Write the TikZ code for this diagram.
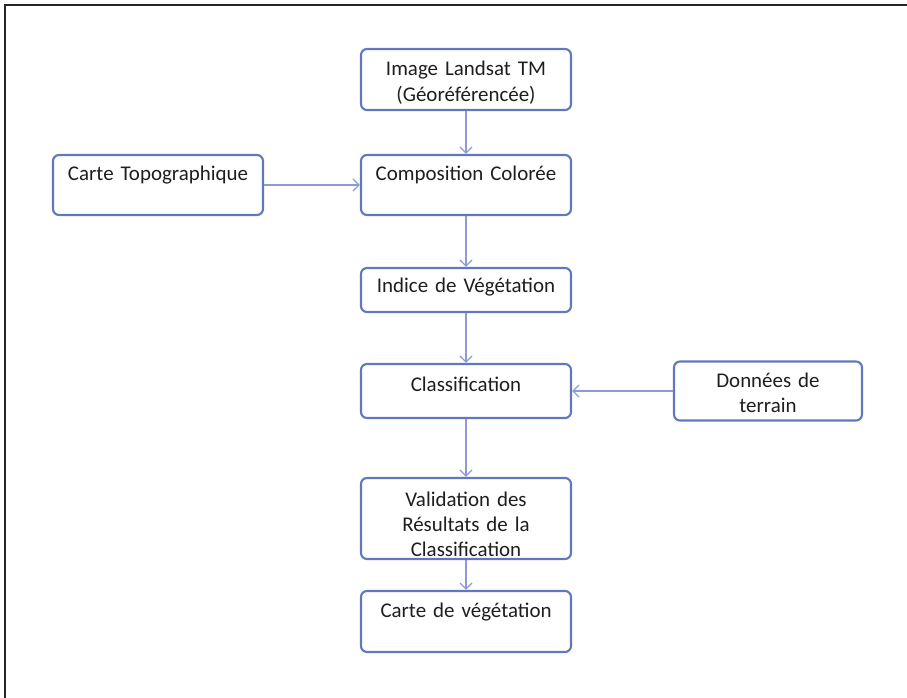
\documentclass[tikz,border=0pt]{standalone}
\usepackage{fontspec}
\setmainfont{Carlito}
\usetikzlibrary{positioning, arrows.meta}
\definecolor{boxblue}{RGB}{98,120,190}
\definecolor{linkblue}{RGB}{140,155,215}
\definecolor{textgray}{RGB}{30,30,30}
\tikzset{
box/.style={draw=boxblue, line width=1.6pt, rounded corners=4.5pt, fill=white,
  minimum width=157.5pt, text width=145pt, align=center, text height=10pt,
  text=textgray, font=\fontsize{15.7}{18.75}\selectfont},
link/.style={draw=linkblue, line width=1pt, -{Straight Barb[length=4.5pt,width=9pt]}},
frame/.style={line width=1.4pt, draw=black!85},
}

\begin{document}
\begin{tikzpicture}[x=0.75pt, y=-0.75pt]
    \useasboundingbox (0,0) rectangle (907,698);
    \draw[frame] (5,698)--(5,5)--(907,5);

    %main column
    \node[box, minimum height=45.75pt, text depth=15.25pt,
          font=\fontsize{15.7}{19.5}\selectfont] (img)  at (466,79.5)  {Image Landsat TM\\(Géoréférencée)};
    \node[box, minimum height=45pt,    text depth=16pt]    (comp)  at (466,185)   {Composition Colorée};
    \node[box, minimum height=33pt,    text depth=5.5pt]   (ndvi)  at (466,290)   {Indice de Végétation};
    \node[box, minimum height=40.5pt,  text depth=8.5pt]   (clas)  at (466,391)   {Classification};
    \node[box, minimum height=60.75pt, text depth=28.75pt] (valid) at (466,518.5) {Validation des\\Résultats de la\\Classification};
    \node[box, minimum height=45.75pt, text depth=16.75pt] (carte) at (466,621.5) {Carte de végétation};

    %side inputs
    \node[box, minimum height=45pt, text depth=16pt] (topo) at (158,185) {Carte Topographique};
    \node[box, minimum width=141pt, text width=128pt, minimum height=44.25pt,
          text depth=14.5pt] (terr) at (768,391) {Données de\\terrain};

    %vertical links
    \draw[link] (img.south)--(comp.north);
    \draw[link] (comp.south)--(ndvi.north);
    \draw[link] (ndvi.south)--(clas.north);
    \draw[link] (clas.south)--(valid.north);
    \draw[link] (valid.south)--(carte.north);

    %horizontal links
    \draw[link] (topo.east)--(comp.west);
    \draw[link] (terr.west)--(clas.east);

\end{tikzpicture}
\end{document}
